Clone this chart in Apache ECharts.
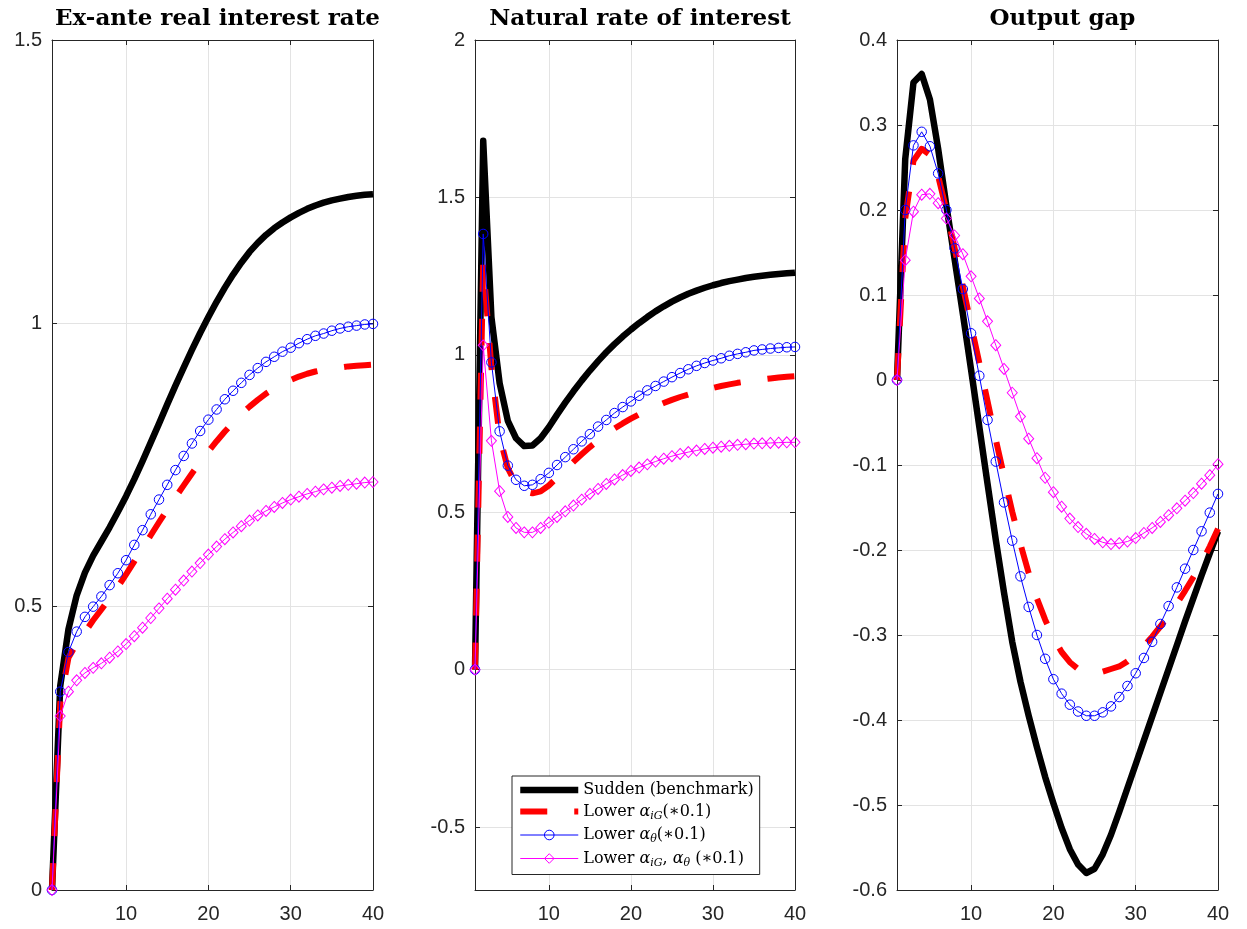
<!DOCTYPE html>
<html>
<head>
<meta charset="utf-8">
<script src="https://cdn.jsdelivr.net/npm/echarts@6/dist/echarts.min.js"></script>
<style>
html,body{margin:0;padding:0;background:#fff;}
#chart{width:1247px;height:929px;}
</style>
</head>
<body>
<div id="chart"></div>
<script>
// ---------- data ----------
const periods = [1,2,3,4,5,6,7,8,9,10,11,12,13,14,15,16,17,18,19,20,21,22,23,24,25,26,27,28,29,30,31,32,33,34,35,36,37,38,39,40];
const panelTitles = ['Ex-ante real interest rate', 'Natural rate of interest', 'Output gap'];
const seriesNames = ['Sudden (benchmark)', 'Lower αiG(∗0.1)', 'Lower αθ(∗0.1)', 'Lower αiG, αθ (∗0.1)'];
const xTicks = [10, 20, 30, 40];
const yTicksNatural = [-0.5, 0, 0.5, 1, 1.5, 2];

// Ex-ante real interest rate
const realSudden = [0,0.36,0.46,0.52,0.56,0.59,0.615,0.64,0.667,0.695,0.725,0.757,0.79,0.823,0.857,0.89,0.922,0.953,0.983,1.011,1.038,1.063,1.086,1.107,1.126,1.142,1.156,1.168,1.178,1.187,1.195,1.202,1.208,1.213,1.217,1.22,1.223,1.225,1.227,1.228];
const realIG = [0,0.33,0.41,0.435,0.455,0.476,0.495,0.515,0.535,0.557,0.58,0.603,0.626,0.649,0.671,0.693,0.714,0.735,0.755,0.774,0.792,0.809,0.825,0.84,0.853,0.865,0.876,0.885,0.893,0.9,0.906,0.911,0.915,0.918,0.92,0.922,0.924,0.925,0.926,0.927];
const realTheta = [0,0.35,0.42,0.456,0.482,0.5,0.518,0.538,0.559,0.582,0.609,0.635,0.663,0.689,0.715,0.741,0.766,0.788,0.81,0.83,0.848,0.866,0.881,0.895,0.909,0.921,0.932,0.941,0.95,0.957,0.965,0.972,0.978,0.982,0.987,0.991,0.994,0.996,0.998,0.999];
const realBoth = [0,0.307,0.35,0.37,0.383,0.392,0.4,0.41,0.421,0.434,0.448,0.463,0.48,0.497,0.514,0.53,0.546,0.562,0.577,0.592,0.606,0.619,0.631,0.642,0.652,0.661,0.669,0.676,0.683,0.689,0.694,0.699,0.703,0.707,0.71,0.713,0.715,0.717,0.719,0.72];

// Natural rate of interest
const natSudden = [0,1.68,1.12,0.91,0.79,0.735,0.71,0.712,0.735,0.77,0.81,0.848,0.884,0.918,0.95,0.98,1.008,1.034,1.058,1.08,1.101,1.12,1.138,1.154,1.169,1.182,1.194,1.204,1.213,1.221,1.228,1.234,1.239,1.244,1.248,1.251,1.254,1.257,1.259,1.261];
const natIG = [0,1.29,0.96,0.74,0.64,0.59,0.566,0.56,0.566,0.585,0.61,0.635,0.66,0.684,0.707,0.728,0.748,0.766,0.782,0.797,0.811,0.824,0.836,0.847,0.857,0.866,0.874,0.882,0.889,0.895,0.901,0.906,0.911,0.915,0.919,0.922,0.925,0.928,0.93,0.932];
const natTheta = [0,1.384,0.976,0.757,0.648,0.603,0.584,0.587,0.605,0.625,0.65,0.675,0.7,0.725,0.748,0.772,0.793,0.815,0.834,0.852,0.87,0.887,0.901,0.915,0.929,0.942,0.954,0.965,0.974,0.982,0.989,0.997,1.003,1.008,1.014,1.017,1.02,1.022,1.024,1.025];
const natBoth = [0,1.03,0.727,0.567,0.485,0.45,0.436,0.436,0.45,0.467,0.485,0.503,0.521,0.54,0.558,0.574,0.59,0.604,0.618,0.631,0.642,0.652,0.661,0.67,0.678,0.685,0.691,0.696,0.701,0.705,0.708,0.711,0.714,0.716,0.718,0.719,0.72,0.721,0.722,0.722];

// Output gap
const gapSudden = [0,0.26,0.35,0.36,0.33,0.272,0.205,0.142,0.078,0.012,-0.055,-0.122,-0.188,-0.25,-0.308,-0.355,-0.395,-0.432,-0.467,-0.498,-0.527,-0.552,-0.57,-0.58,-0.575,-0.558,-0.535,-0.508,-0.48,-0.452,-0.424,-0.396,-0.368,-0.34,-0.312,-0.284,-0.257,-0.23,-0.204,-0.178];
const gapIG = [0,0.19,0.258,0.272,0.265,0.24,0.2,0.155,0.11,0.065,0.02,-0.025,-0.07,-0.113,-0.155,-0.193,-0.227,-0.257,-0.282,-0.303,-0.32,-0.332,-0.34,-0.344,-0.345,-0.343,-0.34,-0.337,-0.331,-0.323,-0.313,-0.302,-0.29,-0.277,-0.263,-0.248,-0.232,-0.215,-0.196,-0.175];
const gapTheta = [0,0.2,0.276,0.292,0.275,0.243,0.2,0.155,0.107,0.055,0.005,-0.047,-0.096,-0.144,-0.189,-0.231,-0.267,-0.3,-0.328,-0.352,-0.369,-0.382,-0.39,-0.395,-0.395,-0.391,-0.384,-0.373,-0.36,-0.345,-0.327,-0.308,-0.287,-0.266,-0.244,-0.222,-0.2,-0.178,-0.156,-0.134];
const gapBoth = [0,0.141,0.198,0.218,0.219,0.208,0.19,0.17,0.148,0.122,0.096,0.069,0.041,0.013,-0.015,-0.043,-0.069,-0.092,-0.115,-0.132,-0.149,-0.163,-0.173,-0.181,-0.187,-0.191,-0.193,-0.192,-0.19,-0.186,-0.18,-0.174,-0.167,-0.159,-0.151,-0.142,-0.133,-0.122,-0.112,-0.099];

// ---------- layout / style ----------
const panels = [
  {left: 52, width: 321, yMin: 0, yMax: 1.5, interval: 0.5, data: [realSudden, realIG, realTheta, realBoth]},
  {left: 475, width: 320, yMin: -0.7, yMax: 2, custom: yTicksNatural, data: [natSudden, natIG, natTheta, natBoth]},
  {left: 897, width: 321, yMin: -0.6, yMax: 0.4, interval: 0.1, data: [gapSudden, gapIG, gapTheta, gapBoth]}
];
const gridTop = 40, gridHeight = 850;
const axisColor = '#262626';
const gridColor = '#e3e3e3';
const tickFont = {fontFamily: 'Liberation Sans, Arial, sans-serif', fontSize: 20, color: axisColor};

const styles = [
  {color: '#000000', width: 6.5, type: 'solid', symbol: 'none'},
  {color: '#ff0000', width: 6, type: [27, 27], symbol: 'none'},
  {color: '#0000ff', width: 1, type: 'solid', symbol: 'circle', size: 9.5},
  {color: '#ff00ff', width: 1, type: 'solid', symbol: 'diamond', size: [10, 11]}
];

const grids = [], xAxes = [], yAxes = [], series = [], titles = [];
panels.forEach((p, i) => {
  grids.push({left: p.left, top: gridTop, width: p.width, height: gridHeight, containLabel: false});
  titles.push({
    text: panelTitles[i], left: p.left + p.width / 2, top: 3, textAlign: 'center',
    textStyle: {fontFamily: 'DejaVu Serif, serif', fontWeight: 'bold', fontSize: 23, color: '#000'}
  });
  const tickCommon = {inside: true, length: 5, lineStyle: {color: axisColor, width: 1}};
  xAxes.push({
    type: 'value', gridIndex: i, min: 1, max: 40, position: 'bottom',
    axisLine: {show: true, onZero: false, lineStyle: {color: axisColor, width: 1}},
    axisTick: Object.assign({customValues: xTicks}, tickCommon),
    axisLabel: Object.assign({customValues: xTicks, margin: 14}, tickFont),
    splitLine: {show: true, lineStyle: {color: gridColor, width: 1}}
  });
  xAxes.push({
    type: 'value', gridIndex: i, min: 1, max: 40, position: 'top',
    axisLine: {show: true, onZero: false, lineStyle: {color: axisColor, width: 1}},
    axisTick: Object.assign({customValues: xTicks}, tickCommon),
    axisLabel: {show: false}, splitLine: {show: false}
  });
  const yBase = {type: 'value', gridIndex: i, min: p.yMin, max: p.yMax};
  if (p.interval) yBase.interval = p.interval;
  const yTickL = Object.assign({}, tickCommon);
  const yLab = Object.assign({margin: 10}, tickFont);
  if (p.custom) { yTickL.customValues = p.custom; yLab.customValues = p.custom; }
  yAxes.push(Object.assign({}, yBase, {
    position: 'left',
    axisLine: {show: true, onZero: false, lineStyle: {color: axisColor, width: 1}},
    axisTick: yTickL, axisLabel: yLab,
    splitLine: {show: true, lineStyle: {color: gridColor, width: 1}}
  }));
  yAxes.push(Object.assign({}, yBase, {
    position: 'right',
    axisLine: {show: true, onZero: false, lineStyle: {color: axisColor, width: 1}},
    axisTick: Object.assign({}, yTickL), axisLabel: {show: false}, splitLine: {show: false}
  }));
  p.data.forEach((vals, k) => {
    const st = styles[k];
    series.push({
      type: 'line', name: seriesNames[k], xAxisIndex: 2 * i, yAxisIndex: 2 * i,
      data: periods.map((x, j) => [x, vals[j]]),
      symbol: st.symbol, symbolSize: st.size || 4, showSymbol: st.symbol !== 'none',
      lineStyle: {color: st.color, width: st.width, type: st.type, cap: 'butt', join: 'round'},
      itemStyle: {color: 'rgba(0,0,0,0)', borderColor: st.color, borderWidth: 1},
      emphasis: {disabled: true}, silent: true, z: 2 + k
    });
  });
});

const legendData = seriesNames.map((n, k) => {
  const st = styles[k];
  const d = {name: n, lineStyle: {width: st.width, color: st.color}, itemStyle: {borderWidth: 1, borderColor: st.color, color: 'rgba(0,0,0,0)'}};
  if (st.symbol === 'none') d.itemStyle.opacity = 0;
  return d;
});
const legendText = {
  'Sudden (benchmark)': '{t|Sudden (benchmark)}',
  'Lower αiG(∗0.1)': '{t|Lower }{g|α}{s|iG}{t|(∗0.1)}',
  'Lower αθ(∗0.1)': '{t|Lower }{g|α}{s|θ}{t|(∗0.1)}',
  'Lower αiG, αθ (∗0.1)': '{t|Lower }{g|α}{s|iG}{t|, }{g|α}{s|θ}{t| (∗0.1)}'
};

const chart = echarts.init(document.getElementById('chart'), null, {renderer: 'canvas'});
chart.setOption({
  animation: false,
  backgroundColor: '#ffffff',
  title: titles,
  grid: grids,
  xAxis: xAxes,
  yAxis: yAxes,
  legend: {
    orient: 'vertical', left: 512, top: 776, padding: [6, 6, 6, 5],
    itemWidth: 58, itemHeight: 12, itemGap: 5.5,
    borderColor: axisColor, borderWidth: 1, backgroundColor: '#ffffff',
    selectedMode: false, data: legendData,
    formatter: name => legendText[name],
    textStyle: {
      color: '#000',
      rich: {
        t: {fontFamily: 'DejaVu Serif, serif', fontSize: 16, lineHeight: 20, color: '#000'},
        g: {fontFamily: 'DejaVu Serif, serif', fontStyle: 'italic', fontSize: 16, lineHeight: 20, color: '#000'},
        s: {fontFamily: 'DejaVu Serif, serif', fontStyle: 'italic', fontSize: 11, lineHeight: 12, verticalAlign: 'bottom', color: '#000'}
      }
    }
  },
  series: series
});
</script>
</body>
</html>
